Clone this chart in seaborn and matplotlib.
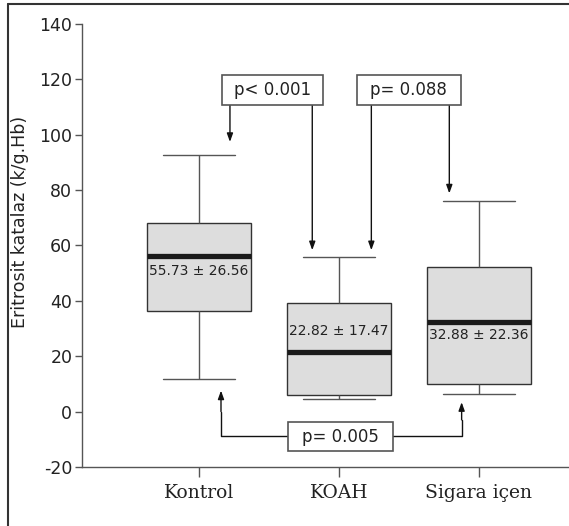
import numpy as np
import pandas as pd
import matplotlib.pyplot as plt
import seaborn as sns
from matplotlib.lines import Line2D
from matplotlib.patches import Rectangle

# Five-number summaries (min, q1, median, q3, max)
groups = ['Kontrol', 'KOAH', 'Sigara içen']
kontrol = [11.6, 36.3, 56.1, 68.2, 92.7]
koah = [4.6, 6.0, 21.5, 39.3, 55.9]
sigara = [6.5, 9.8, 32.5, 52.2, 76.0]

# mean ± sd written inside the boxes
means = [55.73, 22.82, 32.88]
sds = [26.56, 17.47, 22.36]

p_labels = ['p< 0.001', 'p= 0.088', 'p= 0.005']
yticks = [-20, 0, 20, 40, 60, 80, 100, 120, 140]

TEXT = '#222222'
EDGE = '#333333'
GREY = '#555555'


def p_box(ax, x0, x1, y0, y1, label):
    # framed p-value label in data coordinates
    ax.add_patch(Rectangle((x0, y0), x1 - x0, y1 - y0, facecolor='white',
                           edgecolor=GREY, linewidth=1.2, zorder=4))
    ax.text((x0 + x1) / 2, (y0 + y1) / 2, label, ha='center', va='center',
            fontsize=12, color=TEXT, zorder=5)


def arrow(ax, start, end):
    ax.annotate('', xy=end, xytext=start,
                arrowprops=dict(arrowstyle='-|>,head_length=0.5,head_width=0.18',
                                mutation_scale=10, color='#111111', lw=1,
                                shrinkA=0, shrinkB=0), zorder=3)


df = pd.DataFrame({'grup': np.repeat(groups, 5),
                   'katalaz': kontrol + koah + sigara})

sns.set_style('ticks')
plt.rcParams['axes.unicode_minus'] = False
fig = plt.figure(figsize=(5.69, 5.26), dpi=100)
ax = fig.add_axes([0.1441, 0.1122, 0.8559, 0.8422])

sns.boxplot(data=df, x='grup', y='katalaz', order=groups, ax=ax,
            width=0.74, whis=(0, 100), showfliers=False,
            color='#dddddd', linecolor=EDGE, linewidth=1, capwidths=0.52,
            whiskerprops=dict(color=GREY), capprops=dict(color=GREY),
            medianprops=dict(color='#1a1a1a', linewidth=3.8, solid_capstyle='butt'))

# mean ± sd text
text_y = [50.7, 29.1, 27.5]
for i, (m, s) in enumerate(zip(means, sds)):
    ax.text(i, text_y[i], f'{m:.2f} ± {s:.2f}', ha='center', va='center',
            fontsize=10, color=TEXT, zorder=5)

# p-value boxes and arrows
p_box(ax, 0.164, 0.884, 110.8, 121.6, p_labels[0])
arrow(ax, (0.221, 110.8), (0.221, 97.4))
arrow(ax, (0.809, 110.8), (0.809, 58.3))

p_box(ax, 1.126, 1.869, 110.8, 121.6, p_labels[1])
arrow(ax, (1.231, 110.8), (1.231, 58.3))
arrow(ax, (1.788, 110.8), (1.788, 78.8))

p_box(ax, 0.638, 1.384, -14.4, -3.7, p_labels[2])
ax.plot([0.638, 0.157, 0.157], [-8.8, -8.8, 0], color='#111111', lw=1, zorder=3)
arrow(ax, (0.157, 0), (0.157, 7.6))
ax.plot([1.384, 1.876, 1.876], [-8.8, -8.8, -3], color='#111111', lw=1, zorder=3)
arrow(ax, (1.876, -3), (1.876, 3.4))

# axes styling
ax.set_ylim(-20, 140)
ax.set_xlim(-0.836, 2.643)
ax.set_yticks(yticks)
ax.set_xlabel('')
ax.set_ylabel('Eritrosit katalaz (k/g.Hb)', fontsize=12.5, color=TEXT)
ax.yaxis.set_label_coords(-0.108, 0.553)
sns.despine(ax=ax)
for side in ['left', 'bottom']:
    ax.spines[side].set_color(GREY)
    ax.spines[side].set_linewidth(1)
ax.tick_params(axis='y', length=5, width=1, color=GREY, labelsize=12.5,
               labelcolor=TEXT, pad=2)
ax.tick_params(axis='x', length=7, width=1, color=GREY, pad=5)
for lab in ax.get_xticklabels():
    lab.set_fontfamily('DejaVu Serif')
    lab.set_fontsize(13.5)
    lab.set_color(TEXT)

# outer frame (left and top edges)
fig.add_artist(Line2D([8 / 569, 8 / 569], [0, 1 - 4 / 526],
                      transform=fig.transFigure, color=EDGE, lw=1.5))
fig.add_artist(Line2D([8 / 569, 1], [1 - 4 / 526, 1 - 4 / 526],
                      transform=fig.transFigure, color=EDGE, lw=1.5))

fig.savefig('out.png', dpi=100)
